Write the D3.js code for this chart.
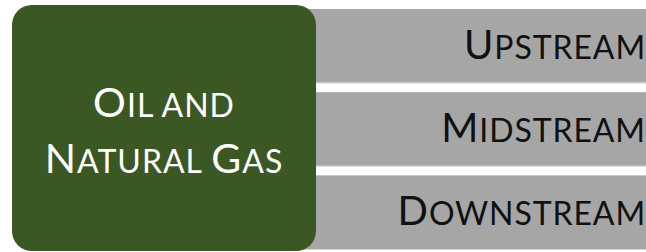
<!DOCTYPE html>
<html>
<head>
<meta charset="utf-8">
<script src="https://cdn.jsdelivr.net/npm/d3@7"></script>
<style>
  html, body { margin: 0; padding: 0; background: #fff; }
  svg { display: block; }
</style>
</head>
<body>
<div id="chart"></div>
<script>
// Diagram content
const mainLabel = ['Oil and', 'Natural Gas'];
const segments = ['Upstream', 'Midstream', 'Downstream'];

const width = 646, height = 252;
const green = '#3a5724';
const grey = '#a6a6a6';

const svg = d3.select('#chart').append('svg')
    .attr('width', width)
    .attr('height', height);

// Bars for the value chain stages
const y = d3.scaleBand()
    .domain(segments)
    .range([9, 249])
    .paddingInner(0.115)
    .paddingOuter(0);

const bars = svg.append('g');
bars.selectAll('rect')
    .data(segments)
    .enter().append('rect')
    .attr('x', 290)
    .attr('y', d => y(d))
    .attr('width', width - 290)
    .attr('height', y.bandwidth())
    .attr('fill', grey);

// faint light edge under each bar
bars.selectAll('line')
    .data(segments)
    .enter().append('line')
    .attr('x1', 290)
    .attr('x2', width)
    .attr('y1', d => y(d) + y.bandwidth() + 0.5)
    .attr('y2', d => y(d) + y.bandwidth() + 0.5)
    .attr('stroke', '#d4d4d4')
    .attr('stroke-width', 1);

// Small caps helper: capitals big, lowercase -> small capitals
function smallCaps(sel, text, big, small) {
    const parts = [];
    for (const ch of text) {
        const isBig = ch !== ' ' && ch === ch.toUpperCase();
        const last = parts[parts.length - 1];
        if (last && last.big === isBig) last.t += ch;
        else parts.push({ t: ch, big: isBig });
    }
    sel.selectAll('tspan')
        .data(parts)
        .enter().append('tspan')
        .attr('font-size', d => d.big ? big : small)
        .text(d => d.t.toUpperCase());
}

bars.selectAll('text')
    .data(segments)
    .enter().append('text')
    .attr('x', 646)
    .attr('y', d => y(d) + y.bandwidth() / 2 + 13)
    .attr('text-anchor', 'end')
    .attr('fill', '#111')
    .attr('font-family', 'Lato, "Open Sans", sans-serif')
    .attr('letter-spacing', 0.9)
    .each(function(d) { smallCaps(d3.select(this), d, 40, 32); });

// Main box
const box = { x: 12, y: 5, w: 304, h: 246 };
svg.append('rect')
    .attr('x', box.x)
    .attr('y', box.y)
    .attr('width', box.w)
    .attr('height', box.h)
    .attr('rx', 20)
    .attr('fill', green);

const lineY = d3.scalePoint()
    .domain(mainLabel)
    .range([117, 173]);

svg.append('g').selectAll('text')
    .data(mainLabel)
    .enter().append('text')
    .attr('x', box.x + box.w / 2)
    .attr('y', d => lineY(d))
    .attr('text-anchor', 'middle')
    .attr('fill', '#fff')
    .attr('font-family', 'Lato, "Open Sans", sans-serif')
    .attr('letter-spacing', 1)
    .each(function(d) { smallCaps(d3.select(this), d, 41, 32); });
</script>
</body>
</html>
